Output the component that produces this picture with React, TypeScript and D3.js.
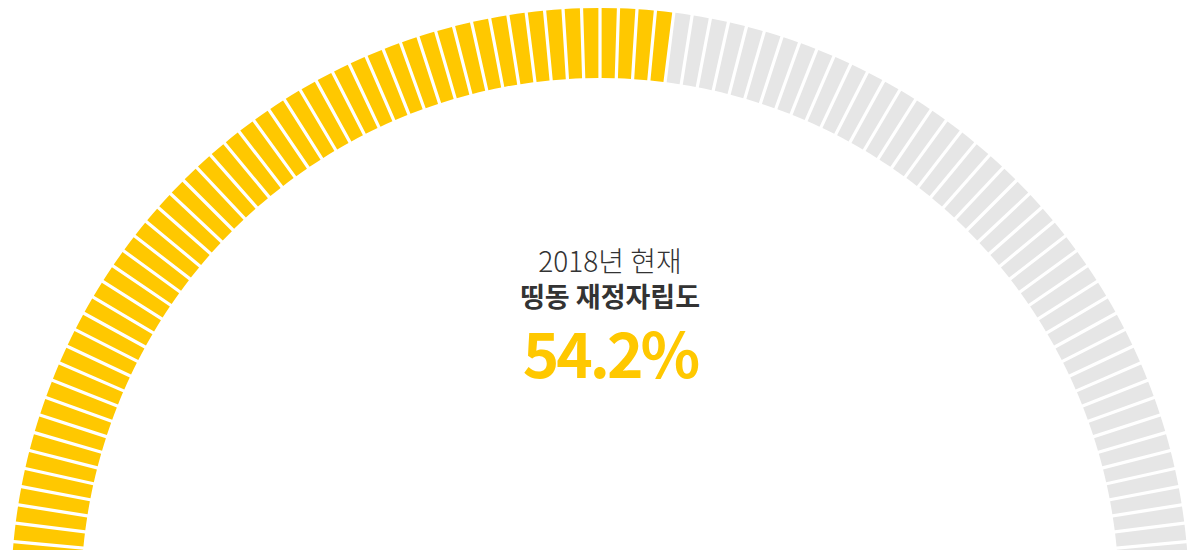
import React from "react";
import * as d3 from "d3";

// 재정자립도 gauge
const value = 54.2;
const segmentCount = 100;
const titleLines = ["2018년 현재", "띵동 재정자립도"];
const valueLabel = "54.2%";

const width = 1198;
const height = 550;
const cx = 600;
const cy = 597;
const outerR = 589;
const innerR = 519;
const yellow = "#FFC800";
const grey = "#E6E6E6";

export default function App() {
  const segments = d3.range(segmentCount);
  const angle = d3
    .scaleBand<number>()
    .domain(segments)
    .range([-Math.PI / 2, Math.PI / 2]);
  const filled = Math.round((value / 100) * segmentCount);

  const arc = d3
    .arc<number>()
    .innerRadius(innerR)
    .outerRadius(outerR)
    .startAngle((d) => angle(d)!)
    .endAngle((d) => angle(d)! + angle.bandwidth())
    .padAngle(0.0055)
    .padRadius(outerR);

  const textX = 610;
  const font = "'Noto Sans CJK KR', 'Noto Sans', sans-serif";

  return (
    <svg
      width={width}
      height={height}
      style={{ position: "absolute", left: 0, top: 0, background: "#fff" }}
    >
      <g transform={`translate(${cx},${cy})`}>
        {segments.map((d) => (
          <path key={d} d={arc(d)!} fill={d < filled ? yellow : grey} />
        ))}
      </g>
      <g fontFamily={font} textAnchor="middle">
        <text x={textX} y={272} fontSize={28} fontWeight={300} fill="#333">
          {titleLines[0]}
        </text>
        <text x={textX} y={307} fontSize={27} fontWeight={700} fill="#333">
          {titleLines[1]}
        </text>
        <text
          x={textX}
          y={378}
          fontSize={62}
          fontWeight={700}
          fill={yellow}
          letterSpacing={-3}
        >
          {valueLabel}
        </text>
      </g>
    </svg>
  );
}
